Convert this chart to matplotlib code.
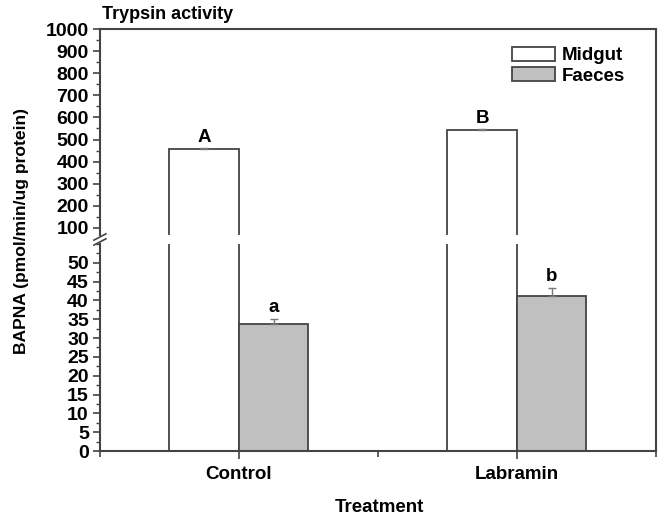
import matplotlib
matplotlib.use("Agg")
import matplotlib.pyplot as plt
import numpy as np
from matplotlib.lines import Line2D
from matplotlib.ticker import MultipleLocator

plt.rcParams['font.family'] = ['Liberation Sans', 'DejaVu Sans']
plt.rcParams['font.weight'] = 'bold'

treatments = ["Control", "Labramin"]
midgut = [455, 541]
midgut_err = [7, 8]
faeces = [33.7, 41.2]
faeces_err = [1.5, 2.0]
midgut_letters = ["A", "B"]
faeces_letters = ["a", "b"]

edge = "#444444"
grey = "#c0c0c0"
width = 0.25
x = np.arange(len(treatments))

fig = plt.figure(figsize=(6.66, 5.22), dpi=100)
left, right = 0.150, 0.985
ax_top = fig.add_axes([left, 0.5498, right - left, 0.9444 - 0.5498])
ax_bot = fig.add_axes([left, 0.1360, right - left, 0.5326 - 0.1360])

for ax in (ax_top, ax_bot):
    ax.bar(x - width / 2, midgut, width, color="white", edgecolor=edge, linewidth=1.3, zorder=2)
    ax.bar(x + width / 2, faeces, width, color=grey, edgecolor=edge, linewidth=1.3, zorder=2)
    ax.errorbar(x - width / 2, midgut, yerr=[[0, 0], midgut_err], fmt="none", ecolor="#777777",
                elinewidth=1, capsize=3, zorder=3)
    ax.errorbar(x + width / 2, faeces, yerr=[[0, 0], faeces_err], fmt="none", ecolor="#777777",
                elinewidth=1, capsize=3, zorder=3)
    ax.set_xlim(-0.5, 1.5)
    for s in ax.spines.values():
        s.set_color(edge)
        s.set_linewidth(1.5)
    ax.tick_params(axis="y", direction="out", length=5, width=1.2, color=edge, labelsize=14, pad=3)
    ax.tick_params(axis="y", which="minor", direction="out", length=3, width=1, color=edge)

ax_top.set_ylim(68, 1000)
ax_top.set_yticks(np.arange(100, 1001, 100))
ax_top.yaxis.set_minor_locator(MultipleLocator(50))
ax_top.spines["bottom"].set_visible(False)
ax_top.spines["right"].set_visible(False)
ax_top.set_xticks([])

ax_bot.set_ylim(0, 55)
ax_bot.set_yticks(np.arange(0, 51, 5))
ax_bot.yaxis.set_minor_locator(MultipleLocator(2.5))
ax_bot.spines["top"].set_visible(False)
ax_bot.spines["right"].set_visible(False)
ax_bot.set_xticks(x)
ax_bot.set_xticklabels(treatments, fontsize=13.5, fontweight="bold")
ax_bot.set_xticks([-0.5, 0.5, 1.5], minor=True)
ax_bot.tick_params(axis="x", which="major", direction="out", length=6, width=1.2, color=edge, pad=5)
ax_bot.tick_params(axis="x", which="minor", direction="out", length=4, width=1.2, color=edge)

# continuous right spine across the break
fig.add_artist(Line2D([right, right], [0.1360, 0.9444], color=edge, linewidth=1.5))

# break marks on the left spine
for yy in (0.5365, 0.5460):
    fig.add_artist(Line2D([left - 0.009, left + 0.009], [yy - 0.006, yy + 0.006],
                          color=edge, linewidth=1.2))

for i in range(len(treatments)):
    ax_top.text(x[i] - width / 2, midgut[i] + midgut_err[i] + 8, midgut_letters[i],
                ha="center", va="bottom", fontsize=13.5, fontweight="bold")
    ax_bot.text(x[i] + width / 2, faeces[i] + faeces_err[i] + 0.8, faeces_letters[i],
                ha="center", va="bottom", fontsize=13.5, fontweight="bold")

handles = [plt.Rectangle((0, 0), 1, 1, facecolor="white", edgecolor=edge, linewidth=1.3),
           plt.Rectangle((0, 0), 1, 1, facecolor=grey, edgecolor=edge, linewidth=1.3)]
fig.legend(handles, ["Midgut", "Faeces"], loc="upper left", frameon=False,
           handlelength=2.3, handleheight=0.75, handletextpad=0.35, labelspacing=0.15,
           borderpad=0, borderaxespad=0,
           bbox_to_anchor=(512 / 666, 1 - 47 / 522), bbox_transform=fig.transFigure,
           prop={"weight": "bold", "size": 13.5})

fig.text(left + 0.003, 0.973, "Trypsin activity", ha="left", va="center", fontsize=13, fontweight="bold")
fig.text(0.033, 0.557, "BAPNA (pmol/min/ug protein)", rotation=90, ha="center", va="center",
         fontsize=12.6, fontweight="bold")
fig.text(0.57, 0.027, "Treatment", ha="center", va="center", fontsize=13.5, fontweight="bold")

fig.savefig("out.png", dpi=100)
